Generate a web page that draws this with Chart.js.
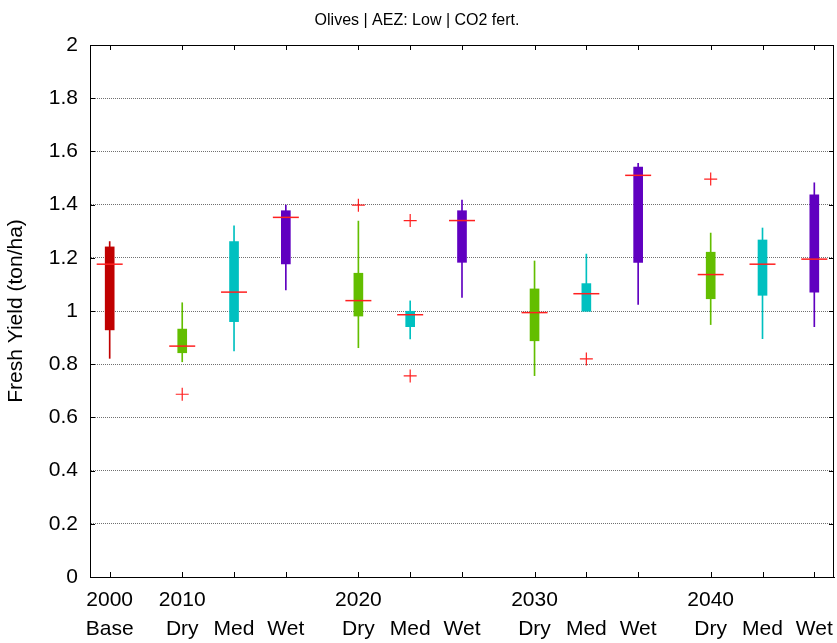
<!DOCTYPE html>
<html>
<head>
<meta charset="utf-8">
<title>Olives | AEZ: Low | CO2 fert.</title>
<script src="https://cdn.jsdelivr.net/npm/chart.js@4.4.1/dist/chart.umd.min.js"></script>
<style>
  html, body { margin: 0; padding: 0; background: #fff; overflow: hidden; }
  canvas { display: block; }
</style>
</head>
<body>
<canvas id="yield" width="837" height="643"></canvas>
<script>
// box positions along the x axis (Base, then Dry/Med/Wet per decade)
var positions   = [0, 1.4, 2.4, 3.4, 4.8, 5.8, 6.8, 8.2, 9.2, 10.2, 11.6, 12.6, 13.6];
var yearLabels  = ['2000', '2010', '', '', '2020', '', '', '2030', '', '', '2040', '', ''];
var caseLabels  = ['Base', 'Dry', 'Med', 'Wet', 'Dry', 'Med', 'Wet', 'Dry', 'Med', 'Wet', 'Dry', 'Med', 'Wet'];

// box statistics, ton/ha
var whiskerLow  = [0.822, 0.809, 0.850, 1.079, 0.862, 0.895, 1.051, 0.757, 1.000, 1.025, 0.949, 0.896, 0.941];
var q1          = [0.929, 0.843, 0.960, 1.177, 0.981, 0.941, 1.183, 0.888, 0.999, 1.183, 1.046, 1.059, 1.071];
var medians     = [1.176, 0.868, 1.071, 1.352, 1.039, 0.986, 1.340, 0.994, 1.065, 1.510, 1.137, 1.176, 1.195];
var q3          = [1.241, 0.932, 1.261, 1.377, 1.142, 0.999, 1.377, 1.083, 1.103, 1.541, 1.221, 1.267, 1.437];
var whiskerHigh = [1.261, 1.031, 1.320, 1.398, 1.338, 1.038, 1.417, 1.188, 1.214, 1.555, 1.293, 1.312, 1.482];

var outlierX = [1.4, 4.8, 5.8, 5.8, 9.2, 11.6];
var outlierY = [0.687, 1.398, 1.340, 0.756, 0.820, 1.496];

var yTicks = [0, 0.2, 0.4, 0.6, 0.8, 1, 1.2, 1.4, 1.6, 1.8, 2];

var caseColors = { Base: '#C00000', Dry: '#63BE00', Med: '#00C0C0', Wet: '#6000C0' };
var colors = caseLabels.map(function (c) { return caseColors[c]; });

function pairs(xs, a, b) {
    return xs.map(function (x, i) { return { x: x, y: [a[i], b[i]] }; });
}
function points(xs, ys) {
    return xs.map(function (x, i) { return { x: x, y: ys[i] }; });
}

// frame on top/right plus inward tick marks, like a boxed axes
var framePlugin = {
    id: 'frame',
    afterDraw: function (chart) {
        var ctx = chart.ctx, a = chart.chartArea;
        var xs = chart.scales.x, ys = chart.scales.y;
        ctx.save();
        ctx.strokeStyle = '#000';
        ctx.lineWidth = 1;
        ctx.beginPath();
        ctx.moveTo(a.left, a.top + 0.5);
        ctx.lineTo(a.right - 0.5, a.top + 0.5);
        ctx.lineTo(a.right - 0.5, a.bottom);
        for (var i = 0; i < yTicks.length; i++) {
            var py = Math.round(ys.getPixelForValue(yTicks[i])) + 0.5;
            ctx.moveTo(a.left, py); ctx.lineTo(a.left + 5, py);
            ctx.moveTo(a.right, py); ctx.lineTo(a.right - 5, py);
        }
        for (var j = 0; j < positions.length; j++) {
            var px = Math.round(xs.getPixelForValue(positions[j])) + 0.5;
            ctx.moveTo(px, a.bottom); ctx.lineTo(px, a.bottom - 5);
            ctx.moveTo(px, a.top); ctx.lineTo(px, a.top + 5);
        }
        ctx.stroke();
        ctx.restore();
    }
};

var font = 'Liberation Sans, Arial, sans-serif';

new Chart(document.getElementById('yield'), {
    type: 'bar',
    data: {
        datasets: [
            {
                type: 'scatter',
                data: points(positions, medians),
                pointStyle: 'line',
                radius: 13,
                borderColor: '#FF2020',
                borderWidth: 1.5,
                order: 0
            },
            {
                type: 'scatter',
                data: points(outlierX, outlierY),
                pointStyle: 'cross',
                radius: 6.5,
                borderColor: '#FF2020',
                borderWidth: 1.2,
                order: 0
            },
            {
                data: pairs(positions, q1, q3),
                backgroundColor: colors,
                barThickness: 9,
                grouped: false,
                order: 1
            },
            {
                data: pairs(positions, whiskerLow, whiskerHigh),
                backgroundColor: colors,
                barThickness: 1,
                grouped: false,
                order: 2
            }
        ]
    },
    options: {
        responsive: false,
        animation: false,
        devicePixelRatio: 1,
        layout: { autoPadding: false, padding: { left: 0, right: 3, top: 0, bottom: 0 } },
        plugins: {
            legend: { display: false },
            tooltip: { enabled: false },
            title: {
                display: true,
                text: 'Olives | AEZ: Low | CO2 fert.',
                color: '#000',
                font: { family: font, size: 16, weight: 'normal', lineHeight: 1.2 },
                padding: { top: 11, bottom: 14.8 }
            }
        },
        scales: {
            x: {
                type: 'linear',
                min: -0.38,
                max: 13.98,
                offset: false,
                afterBuildTicks: function (scale) {
                    scale.ticks = positions.map(function (v) { return { value: v }; });
                },
                afterFit: function (scale) {
                    scale.height = 66;
                    scale.paddingLeft = 0;
                    scale.paddingRight = 0;
                },
                grid: { display: false, drawTicks: false },
                border: { display: true, color: '#000', width: 1 },
                ticks: {
                    autoSkip: false,
                    maxRotation: 0,
                    padding: 9,
                    color: '#000',
                    font: { family: font, size: 21, lineHeight: 1.36 },
                    callback: function (value, index) {
                        return [yearLabels[index], caseLabels[index]];
                    }
                }
            },
            y: {
                min: 0,
                max: 2,
                afterBuildTicks: function (scale) {
                    scale.ticks = yTicks.map(function (v) { return { value: v }; });
                },
                afterFit: function (scale) {
                    scale.width = 90;
                    scale.paddingTop = 0;
                    scale.paddingBottom = 0;
                },
                grid: { color: '#707070', lineWidth: 1, drawTicks: false },
                border: { display: true, color: '#000', width: 1, dash: [1, 1] },
                ticks: {
                    padding: 12,
                    color: '#000',
                    font: { family: font, size: 21 },
                    callback: function (value) { return String(value); }
                },
                title: {
                    display: true,
                    text: 'Fresh Yield (ton/ha)',
                    color: '#000',
                    font: { family: font, size: 21, lineHeight: 1.2 },
                    padding: { top: 4, bottom: 0 }
                }
            }
        }
    },
    plugins: [framePlugin]
});
</script>
</body>
</html>
